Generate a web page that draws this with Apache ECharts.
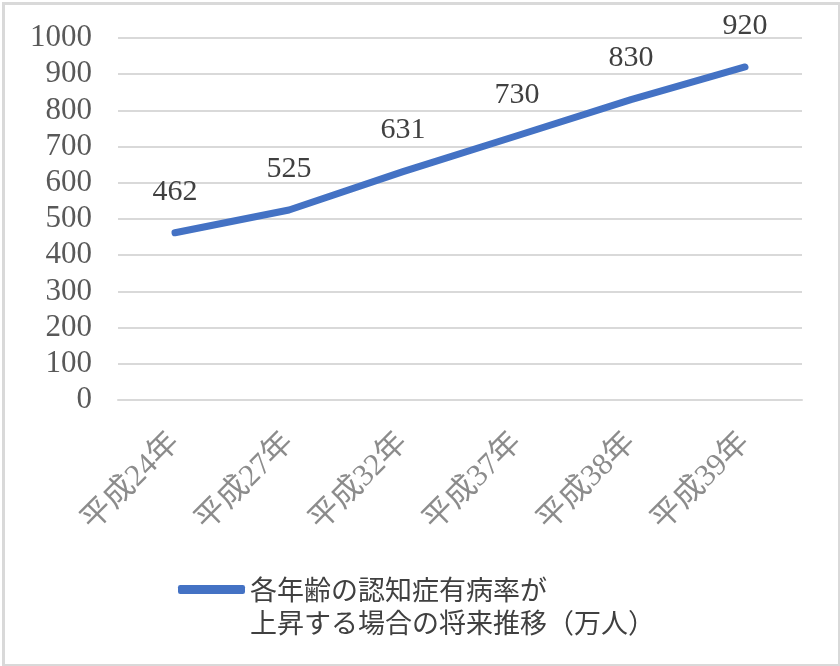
<!DOCTYPE html>
<html><head><meta charset="utf-8">
<script src="https://cdn.jsdelivr.net/npm/echarts@6/dist/echarts.min.js"></script>
<style>html,body{margin:0;padding:0;background:#fff}#c{width:840px;height:666px}</style>
</head><body><div id="c"></div>
<script>
const categories = ['平成24年','平成27年','平成32年','平成37年','平成38年','平成39年'];
const values = [462, 525, 631, 730, 830, 920];
const seriesName = '各年齢の認知症有病率が\n上昇する場合の将来推移（万人）';
const yMin = 0, yMax = 1000, yInterval = 100;

const chart = echarts.init(document.getElementById('c'));
chart.setOption({
  backgroundColor: '#fff',
  animation: false,
  graphic: [{
    type: 'rect', left: 1, top: 1, shape: { width: 836, height: 662 },
    style: { fill: 'none', stroke: '#d9d9d9', lineWidth: 3 }, silent: true
  }],
  grid: { left: 118, right: 38, top: 38, bottom: 266 },
  xAxis: {
    type: 'category', data: categories, boundaryGap: true,
    axisLine: { lineStyle: { color: '#d9d9d9', width: 2 } },
    axisTick: { show: false },
    axisLabel: { rotate: 45, margin: 38, color: '#8c8c8c', fontSize: 31,
      fontFamily: '"Liberation Serif", "Noto Sans CJK JP", serif' }
  },
  yAxis: {
    type: 'value', min: yMin, max: yMax, interval: yInterval,
    axisLine: { show: false }, axisTick: { show: false },
    splitLine: { lineStyle: { color: '#d9d9d9', width: 2 } },
    axisLabel: { margin: 26, color: '#595959', fontSize: 31,
      fontFamily: '"Liberation Serif", serif', formatter: v => String(v) }
  },
  legend: {
    left: 173, top: 535, itemWidth: 67, itemHeight: 9, itemGap: 0,
    data: [{ name: seriesName, icon: 'roundRect' }],
    formatter: name => '\n' + name,
    itemStyle: { color: '#4472C4' },
    lineStyle: { width: 0 },
    textStyle: { color: '#404040', fontSize: 27, lineHeight: 33,
      fontFamily: '"Noto Sans CJK JP", sans-serif' }
  },
  series: [{
    name: seriesName, type: 'line', data: values,
    symbol: 'circle', symbolSize: 0.1, showSymbol: true,
    lineStyle: { color: '#4472C4', width: 7, cap: 'round', join: 'round' },
    itemStyle: { color: '#4472C4' },
    label: { show: true, position: 'top', distance: 26, color: '#404040', fontSize: 30,
      fontFamily: '"Liberation Serif", serif' }
  }]
});
</script></body></html>
